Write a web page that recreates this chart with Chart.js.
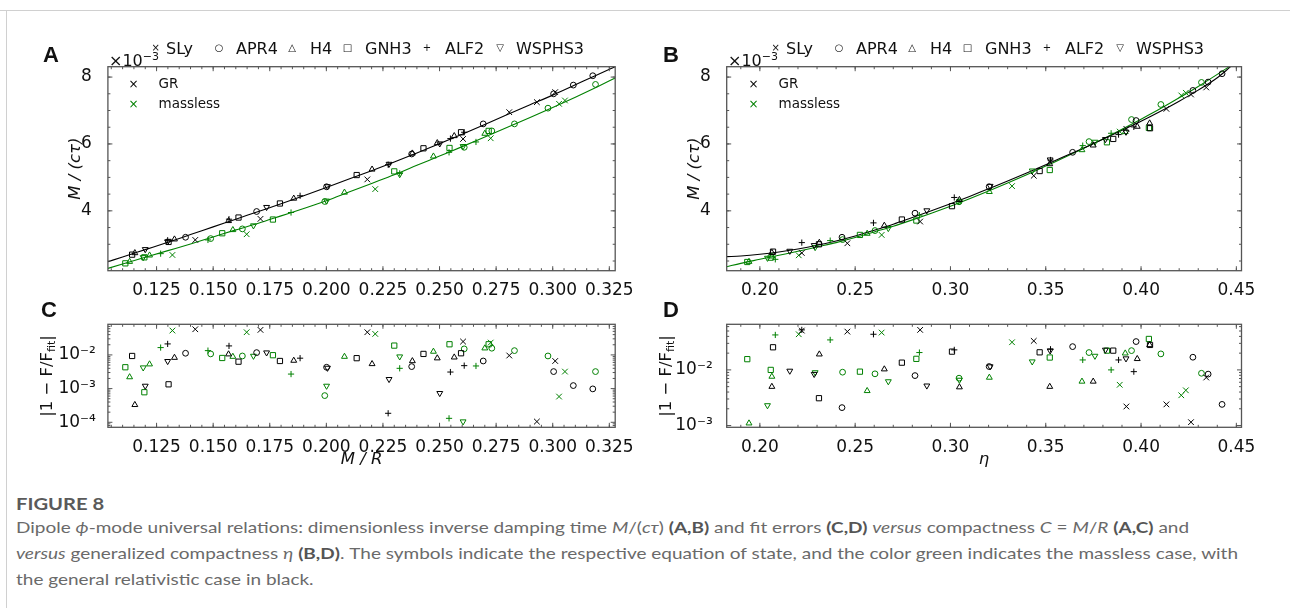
<!DOCTYPE html>
<html>
<head>
<meta charset="utf-8">
<script src="https://cdn.jsdelivr.net/npm/chart.js@4.4.1/dist/chart.umd.min.js"></script>
<style>
  body { margin: 0; width: 1290px; height: 608px; background: #fff; position: relative; overflow: hidden;
         font-family: 'DejaVu Sans', sans-serif; color: #111; }
  canvas { position: absolute; }
  .abs { position: absolute; white-space: nowrap; line-height: 1; }
  .letter { font-family: 'Liberation Sans', Arial, sans-serif; font-weight: bold; font-size: 22px; }
  .leg { font-size: 16px; }
  .sym { font-size: 10px; transform: translate(-50%, -50%); }
  .inner { font-size: 13.5px; }
  .ytitle { font-size: 16.5px; transform: translate(-50%, -50%) rotate(-90deg); }
  .ytitle sub { font-size: 11px; vertical-align: -3px; }
  .cap { position: absolute; left: 16px; white-space: nowrap; font-family: Lato, 'Open Sans', sans-serif;
         font-size: 16px; color: #6a6a6a; line-height: 1; transform-origin: 0 0; }
  .cap b { color: #555; }
  #figno { font-weight: bold; font-size: 17px; color: #5a5a5a; }
  #topline { position: absolute; left: 0; top: 10px; width: 1290px; height: 1px; background: #d0d0d0; }
  #leftline { position: absolute; left: 6px; top: 10px; width: 1px; height: 598px; background: #d0d0d0; }
</style>
</head>
<body>
<div id="topline"></div>
<div id="leftline"></div>

<canvas id="cA" width="590" height="265" style="left:50px;top:40px"></canvas>
<canvas id="cB" width="600" height="265" style="left:670px;top:40px"></canvas>
<canvas id="cC" width="610" height="170" style="left:30px;top:300px"></canvas>
<canvas id="cD" width="620" height="170" style="left:650px;top:300px"></canvas>

<div class="abs letter" style="left:43px;top:44px">A</div>
<div class="abs letter" style="left:663px;top:44px">B</div>
<div class="abs letter" style="left:41px;top:299px">C</div>
<div class="abs letter" style="left:663px;top:299px">D</div>

<div class="abs leg" style="left:109px;top:51px">×10<sup style="font-size:11px">−3</sup></div>
<div class="abs leg" style="left:728px;top:51px">×10<sup style="font-size:11px">−3</sup></div>

<div class="abs ytitle" style="left:48px;top:376px">|1 − F/F<sub>fit</sub>|</div>
<div class="abs ytitle" style="left:667px;top:376px">|1 − F/F<sub>fit</sub>|</div>

<div id="legends"></div>

<div class="cap" id="figno" style="top:495px">FIGURE 8</div>
<div class="cap" style="top:519px">Dipole <i>ϕ</i>-mode universal relations: dimensionless inverse damping time <i>M</i>/(<i>cτ</i>) <b>(A,B)</b> and fit errors <b>(C,D)</b> <i>versus</i> compactness <i>C</i> = <i>M</i>/<i>R</i> <b>(A,C)</b> and</div>
<div class="cap" id="cap2" style="top:545px"><i>versus</i> generalized compactness <i>η</i> <b>(B,D)</b>. The symbols indicate the respective equation of state, and the color green indicates the massless case, with</div>
<div class="cap" style="top:571px">the general relativistic case in black.</div>

<script>
const eosNames = ['SLy', 'APR4', 'H4', 'GNH3', 'ALF2', 'WSPHS3'];
const eosSymbols = ['×', '○', '△', '□', '+', '▽'];

// compactness C = M/R, general relativistic stars (per EOS)
const cGR = [
  [0.1421, 0.1709, 0.2181, 0.2604, 0.2808, 0.2930, 0.3011],
  [0.1378, 0.1692, 0.2001, 0.2377, 0.2693, 0.3004, 0.3091, 0.3177],
  [0.1154, 0.1329, 0.1568, 0.1856, 0.2202, 0.2380, 0.2490, 0.2565],
  [0.1142, 0.1303, 0.1612, 0.1795, 0.2134, 0.2429, 0.2595],
  [0.1299, 0.1570, 0.1884, 0.2273, 0.2548, 0.2609],
  [0.1200, 0.1299, 0.1736, 0.2005, 0.2277, 0.2501]
];
// M/(c tau) x 1e3 vs C, GR
const aGR = [
  [3.13, 3.76, 4.94, 6.15, 6.95, 7.25, 7.55],
  [3.21, 3.98, 4.72, 5.70, 6.60, 7.50, 7.76, 8.04],
  [2.74, 3.15, 3.70, 4.37, 5.24, 5.72, 6.03, 6.24],
  [2.69, 3.07, 3.80, 4.22, 5.07, 5.87, 6.35],
  [3.12, 3.75, 4.45, 5.38, 6.16, 6.35],
  [2.85, 3.08, 4.11, 4.73, 5.40, 6.01]
];
// fit error vs C, GR
const errCGR = [
  [0.0578, 0.0553, 0.0471, 0.0249, 0.0096, 0.000105, 0.0066],
  [0.0112, 0.0117, 0.0043, 0.0045, 0.0066, 0.0032, 0.00123, 0.00098],
  [0.00033, 0.0083, 0.0105, 0.0068, 0.0054, 0.0066, 0.0080, 0.0085],
  [0.0093, 0.00134, 0.0063, 0.0066, 0.0080, 0.0107, 0.0112],
  [0.0212, 0.0185, 0.0080, 0.000185, 0.0031, 0.0048],
  [0.00120, 0.0065, 0.0117, 0.0041, 0.0019, 0.00073]
];

// massless case
const cML = [
  [0.1320, 0.1648, 0.2216, 0.2726, 0.3028, 0.3054],
  [0.1489, 0.1629, 0.1993, 0.2609, 0.2731, 0.2831, 0.2979, 0.3189],
  [0.1131, 0.1219, 0.1587, 0.2080, 0.2473, 0.2700],
  [0.1112, 0.1196, 0.1540, 0.1764, 0.2300, 0.2544, 0.2717],
  [0.1268, 0.1477, 0.1844, 0.2324, 0.2542, 0.2661],
  [0.1191, 0.1678, 0.2001, 0.2324, 0.2604]
];
const aML = [
  [2.68, 3.30, 4.65, 6.17, 7.20, 7.30],
  [3.17, 3.46, 4.28, 5.90, 6.39, 6.60, 7.07, 7.78],
  [2.48, 2.67, 3.43, 4.55, 5.63, 6.31],
  [2.43, 2.61, 3.33, 3.74, 5.18, 5.88, 6.39],
  [2.72, 3.13, 3.95, 5.12, 5.75, 6.06],
  [2.61, 3.56, 4.30, 5.09, 5.93]
];
const errCML = [
  [0.0529, 0.0471, 0.0420, 0.0232, 0.00058, 0.0032],
  [0.0107, 0.0093, 0.00062, 0.0151, 0.0158, 0.0134, 0.0093, 0.0032],
  [0.0022, 0.0053, 0.0089, 0.0089, 0.0126, 0.0158],
  [0.0043, 0.00078, 0.0081, 0.0098, 0.0189, 0.0207, 0.0207],
  [0.0165, 0.0134, 0.0027, 0.0040, 0.000131, 0.0047],
  [0.0042, 0.0093, 0.00120, 0.0089, 0.000105]
];

// generalized compactness eta, GR
const etaGR = [
  [0.2220, 0.2459, 0.2841, 0.3437, 0.3923, 0.4133, 0.4262, 0.4342],
  [0.2431, 0.2814, 0.3203, 0.3641, 0.3974, 0.4272, 0.4352, 0.4425],
  [0.2063, 0.2312, 0.2653, 0.3047, 0.3521, 0.3749, 0.3980, 0.4045],
  [0.2069, 0.2310, 0.2745, 0.3008, 0.3468, 0.3854, 0.4047],
  [0.2220, 0.2596, 0.3020, 0.3525, 0.3882, 0.3962],
  [0.2157, 0.2285, 0.2876, 0.3208, 0.3523, 0.3813, 0.3921]
];
const bGR = [
  [2.74, 3.03, 3.68, 5.05, 6.45, 7.05, 7.48, 7.69],
  [3.21, 3.93, 4.72, 5.75, 6.70, 7.60, 7.85, 8.10],
  [2.75, 3.05, 3.56, 4.33, 5.40, 5.96, 6.52, 6.62],
  [2.78, 3.00, 3.74, 4.14, 5.19, 6.15, 6.47],
  [3.05, 3.64, 4.40, 5.52, 6.28, 6.51],
  [2.80, 2.97, 4.01, 4.74, 5.53, 6.14, 6.36]
];
const errDGR = [
  [0.0509, 0.0488, 0.0524, 0.0332, 0.0022, 0.0024, 0.00115, 0.0073],
  [0.0021, 0.0079, 0.0115, 0.0262, 0.0323, 0.0169, 0.0084, 0.0024],
  [0.0050, 0.0191, 0.0103, 0.0049, 0.0050, 0.0062, 0.0158, 0.0281],
  [0.0255, 0.0031, 0.0135, 0.0213, 0.0207, 0.0222, 0.0281],
  [0.0524, 0.0437, 0.0229, 0.0235, 0.0151, 0.0093],
  [0.0096, 0.0084, 0.0052, 0.0115, 0.0222, 0.0229, 0.0160]
];

const etaML = [
  [0.2204, 0.2639, 0.3323, 0.3888, 0.4211, 0.4235],
  [0.2434, 0.2604, 0.3045, 0.3727, 0.3950, 0.4104, 0.4317],
  [0.1943, 0.2063, 0.2563, 0.3204, 0.3690, 0.3917],
  [0.1934, 0.2057, 0.2525, 0.2821, 0.3521, 0.3821, 0.4041],
  [0.2081, 0.2369, 0.2837, 0.3694, 0.3843],
  [0.2040, 0.2290, 0.2674, 0.3047, 0.3429, 0.3758]
];
const bML = [
  [2.67, 3.28, 4.74, 6.37, 7.45, 7.53],
  [3.14, 3.41, 4.27, 6.07, 6.73, 7.18, 7.84],
  [2.48, 2.64, 3.32, 4.57, 5.82, 6.36],
  [2.47, 2.60, 3.28, 3.71, 5.22, 6.05, 6.48],
  [2.55, 3.11, 3.87, 5.95, 6.32],
  [2.59, 2.91, 3.48, 4.28, 5.20, 6.06]
];
const errDML = [
  [0.0437, 0.0469, 0.0314, 0.0054, 0.0035, 0.0043],
  [0.0091, 0.0085, 0.0071, 0.0205, 0.0222, 0.0194, 0.0087],
  [0.0011, 0.0076, 0.0042, 0.0073, 0.0062, 0.0199],
  [0.0156, 0.0100, 0.0093, 0.0158, 0.0167, 0.0222, 0.0360],
  [0.0425, 0.0346, 0.0205, 0.0151, 0.0100],
  [0.0023, 0.0090, 0.0062, 0.0066, 0.0141, 0.0178]
];

// fitted curves
const fitCx = [0.1035, 0.11, 0.12, 0.13, 0.14, 0.15, 0.16, 0.17, 0.18, 0.19, 0.20, 0.21, 0.22, 0.23, 0.24, 0.25, 0.26, 0.27, 0.28, 0.29, 0.30, 0.31, 0.32, 0.3276];
const fitCgr = [2.48, 2.62, 2.84, 3.06, 3.29, 3.52, 3.75, 3.98, 4.21, 4.45, 4.70, 4.95, 5.20, 5.46, 5.73, 6.01, 6.29, 6.58, 6.88, 7.17, 7.46, 7.77, 8.08, 8.31];
const fitCml = [2.28, 2.41, 2.61, 2.81, 3.01, 3.22, 3.43, 3.63, 3.85, 4.07, 4.30, 4.56, 4.82, 5.08, 5.36, 5.64, 5.92, 6.21, 6.50, 6.79, 7.09, 7.40, 7.72, 7.97];
const fitEx = [0.1826, 0.19, 0.20, 0.21, 0.22, 0.23, 0.24, 0.25, 0.26, 0.27, 0.28, 0.29, 0.30, 0.31, 0.32, 0.33, 0.34, 0.35, 0.36, 0.37, 0.38, 0.39, 0.40, 0.41, 0.42, 0.43, 0.44, 0.447];
const fitEgr = [2.63, 2.65, 2.70, 2.77, 2.86, 2.97, 3.10, 3.25, 3.42, 3.60, 3.80, 4.00, 4.21, 4.43, 4.66, 4.89, 5.13, 5.38, 5.63, 5.88, 6.14, 6.41, 6.68, 6.97, 7.28, 7.61, 7.98, 8.31];
const fitEml = [2.33, 2.43, 2.55, 2.67, 2.79, 2.92, 3.05, 3.20, 3.37, 3.54, 3.73, 3.93, 4.14, 4.36, 4.59, 4.83, 5.08, 5.34, 5.60, 5.87, 6.15, 6.44, 6.74, 7.05, 7.38, 7.72, 8.08, 8.34];

// tick labels
const ticksC = [0.125, 0.150, 0.175, 0.200, 0.225, 0.250, 0.275, 0.300, 0.325];
const ticksEta = [0.20, 0.25, 0.30, 0.35, 0.40, 0.45];
const ticksM = [4, 6, 8];
const ticksErrC = [1e-4, 1e-3, 1e-2];
const ticksErrD = [1e-3, 1e-2];

const BLACK = '#000000';
const GREEN = '#008000';
const tickFont = { family: "'DejaVu Sans', sans-serif", size: 17 };
const titleFont = { family: "'DejaVu Sans', sans-serif", size: 16.5, style: 'italic' };

Chart.defaults.font.family = "'DejaVu Sans', sans-serif";
Chart.defaults.font.size = 16;
Chart.defaults.color = '#111';

const markers = [
  { style: 'crossRot', r: 4, rot: 0 },
  { style: 'circle', r: 2.9, rot: 0 },
  { style: 'triangle', r: 3.4, rot: 0 },
  { style: 'rect', r: 3.7, rot: 0 },
  { style: 'cross', r: 3.1, rot: 0 },
  { style: 'triangle', r: 3.4, rot: 180 }
];

function steps(a, b, s) {
  const out = [];
  for (let v = Math.ceil(a / s) * s; v <= b + 1e-9; v += s) out.push(+v.toFixed(6));
  return out;
}
function logMinors() {
  const out = [];
  for (let e = -6; e <= 0; e++) for (let m = 2; m <= 9; m++) out.push(m * Math.pow(10, e));
  return out;
}
const supMap = { '-': '⁻', '0': '⁰', '1': '¹', '2': '²', '3': '³', '4': '⁴', '5': '⁵', '6': '⁶', '7': '⁷', '8': '⁸', '9': '⁹' };
const logLabel = v => '10' + String(Math.round(Math.log10(v))).split('').map(c => supMap[c]).join('');

// frame with inward ticks on all four sides
const tickFrame = {
  id: 'tickFrame',
  afterDraw(chart, args, o) {
    const { ctx, chartArea: a } = chart;
    const sx = chart.scales.x, sy = chart.scales.y;
    ctx.save();
    ctx.strokeStyle = '#555';
    ctx.lineWidth = 1;
    ctx.beginPath();
    const xs = (vals, len) => vals.forEach(v => {
      const p = sx.getPixelForValue(v);
      if (p < a.left + 1 || p > a.right - 1) return;
      ctx.moveTo(p, a.bottom); ctx.lineTo(p, a.bottom - len);
      ctx.moveTo(p, a.top); ctx.lineTo(p, a.top + len);
    });
    const ys = (vals, len) => vals.forEach(v => {
      const p = sy.getPixelForValue(v);
      if (p < a.top + 1 || p > a.bottom - 1) return;
      ctx.moveTo(a.left, p); ctx.lineTo(a.left + len, p);
      ctx.moveTo(a.right, p); ctx.lineTo(a.right - len, p);
    });
    xs(o.xMajor, 4.5); xs(o.xMinor, 2.5);
    ys(o.yMajor, 4.5); ys(o.yMinor, 2.5);
    ctx.stroke();
    ctx.lineWidth = 1.3;
    ctx.strokeRect(a.left, a.top, a.right - a.left, a.bottom - a.top);
    ctx.restore();
  }
};

function scatterSets(xs, ys, color) {
  return eosNames.map((name, i) => ({
    type: 'scatter',
    label: name,
    data: xs[i].map((x, j) => ({ x: x, y: ys[i][j] })),
    pointStyle: markers[i].style,
    pointRadius: markers[i].r,
    pointRotation: markers[i].rot,
    pointBorderColor: color,
    pointBackgroundColor: 'rgba(0,0,0,0)',
    pointBorderWidth: 1,
    showLine: false,
    order: 1
  }));
}
function fitSet(xs, ys, color) {
  return {
    type: 'line',
    data: xs.map((x, i) => ({ x: x, y: ys[i] })),
    borderColor: color,
    borderWidth: 1.1,
    pointRadius: 0,
    cubicInterpolationMode: 'monotone',
    fill: false,
    order: 2
  };
}

function makeChart(id, datasets, c) {
  return new Chart(document.getElementById(id), {
    type: 'scatter',
    data: { datasets: datasets },
    options: {
      responsive: false,
      animation: false,
      events: [],
      layout: { padding: c.pad },
      plugins: { legend: { display: false }, tooltip: { enabled: false }, tickFrame: c.frame },
      scales: {
        x: {
          type: 'linear', min: c.xMin, max: c.xMax, bounds: 'data',
          grid: { display: false }, border: { display: false },
          ticks: { padding: 2, maxRotation: 0, minRotation: 0, autoSkip: false, color: '#111', font: tickFont, callback: c.xFmt },
          afterBuildTicks: s => { s.ticks = c.xTicks.map(v => ({ value: v })); },
          afterFit: s => { s.height = c.xH; },
          title: c.xTitle || { display: false }
        },
        y: {
          type: c.yType, min: c.yMin, max: c.yMax, bounds: 'data',
          grid: { display: false }, border: { display: false },
          ticks: { padding: c.yPad, autoSkip: false, color: '#111', font: tickFont, callback: c.yFmt },
          afterBuildTicks: s => { s.ticks = c.yTicks.map(v => ({ value: v })); },
          afterFit: s => { s.width = c.yW; },
          title: c.yTitle || { display: false }
        }
      }
    },
    plugins: [tickFrame]
  });
}

const mTitle = pt => ({ display: true, text: 'M / (cτ)', color: '#111', font: titleFont, padding: { top: pt, bottom: 0 } });
const xTitle = txt => ({ display: true, text: txt, color: '#111', font: titleFont, padding: { top: 0, bottom: 0 } });

// panel A
makeChart('cA', [fitSet(fitCx, fitCgr, BLACK), fitSet(fitCx, fitCml, GREEN), ...scatterSets(cGR, aGR, BLACK), ...scatterSets(cML, aML, GREEN)], {
  pad: { left: 0, top: 26.7, right: 24.8, bottom: 0 },
  xMin: 0.1035, xMax: 0.3276, xTicks: ticksC, xFmt: v => v.toFixed(3), xH: 34.3,
  yType: 'linear', yMin: 2.21, yMax: 8.31, yTicks: ticksM, yFmt: v => String(v), yW: 57.9, yPad: 8,
  yTitle: mTitle(15.5),
  frame: { xMajor: ticksC, xMinor: steps(0.10, 0.33, 0.005), yMajor: ticksM, yMinor: steps(2, 8.5, 0.5) }
});
// panel B
makeChart('cB', [fitSet(fitEx, fitEgr, BLACK), fitSet(fitEx, fitEml, GREEN), ...scatterSets(etaGR, bGR, BLACK), ...scatterSets(etaML, bML, GREEN)], {
  pad: { left: 0, top: 26.7, right: 28.5, bottom: 0 },
  xMin: 0.1826, xMax: 0.4527, xTicks: ticksEta, xFmt: v => v.toFixed(2), xH: 34.3,
  yType: 'linear', yMin: 2.21, yMax: 8.31, yTicks: ticksM, yFmt: v => String(v), yW: 56.7, yPad: 8,
  yTitle: mTitle(15),
  frame: { xMajor: ticksEta, xMinor: steps(0.18, 0.46, 0.01), yMajor: ticksM, yMinor: steps(2, 8.5, 0.5) }
});
// panel C
makeChart('cC', [...scatterSets(cGR, errCGR, BLACK), ...scatterSets(cML, errCML, GREEN)], {
  pad: { left: 0, top: 24.3, right: 24.8, bottom: 0 },
  xMin: 0.1035, xMax: 0.3276, xTicks: ticksC, xFmt: v => v.toFixed(3), xH: 42.7,
  xTitle: xTitle('M / R'),
  yType: 'logarithmic', yMin: 7.1e-5, yMax: 0.081, yTicks: ticksErrC, yFmt: logLabel, yW: 77.9, yPad: 4,
  frame: { xMajor: ticksC, xMinor: steps(0.10, 0.33, 0.005), yMajor: ticksErrC, yMinor: logMinors() }
});
// panel D
makeChart('cD', [...scatterSets(etaGR, errDGR, BLACK), ...scatterSets(etaML, errDML, GREEN)], {
  pad: { left: 0, top: 24.3, right: 28.5, bottom: 0 },
  xMin: 0.1826, xMax: 0.4527, xTicks: ticksEta, xFmt: v => v.toFixed(2), xH: 42.7,
  xTitle: xTitle('η'),
  yType: 'logarithmic', yMin: 9.3e-4, yMax: 0.066, yTicks: ticksErrD, yFmt: logLabel, yW: 76.7, yPad: 6,
  frame: { xMajor: ticksEta, xMinor: steps(0.18, 0.46, 0.01), yMajor: ticksErrD, yMinor: logMinors() }
});

// legends (EOS row above A and B, GR/massless inside)
const legendBox = document.getElementById('legends');
const symX = [155.7, 219, 292, 347.5, 427, 500];
const labX = [166, 236, 310, 365, 445, 516];
[0, 620].forEach(dx => {
  eosNames.forEach((name, i) => {
    const s = document.createElement('div');
    s.className = 'abs sym';
    s.style.left = (symX[i] + dx) + 'px';
    s.style.top = '48px';
    s.textContent = eosSymbols[i];
    legendBox.appendChild(s);
    const t = document.createElement('div');
    t.className = 'abs leg';
    t.style.left = (labX[i] + dx) + 'px';
    t.style.top = '40.5px';
    t.textContent = name;
    legendBox.appendChild(t);
  });
  [['GR', BLACK, 84], ['massless', GREEN, 104]].forEach(([txt, col, y]) => {
    const s = document.createElement('div');
    s.className = 'abs sym';
    s.style.fontSize = '12px';
    s.style.color = col;
    s.style.left = (133.6 + dx) + 'px';
    s.style.top = y + 'px';
    s.textContent = '×';
    legendBox.appendChild(s);
    const t = document.createElement('div');
    t.className = 'abs inner';
    t.style.left = (158.5 + dx) + 'px';
    t.style.top = (y - 6.6) + 'px';
    t.textContent = txt;
    legendBox.appendChild(t);
  });
});

// caption width matched to the reference line length
const capLine = document.getElementById('cap2');
const k = 1222 / capLine.getBoundingClientRect().width;
document.querySelectorAll('.cap').forEach(el => { el.style.transform = 'scaleX(' + k + ')'; });
</script>
</body>
</html>
